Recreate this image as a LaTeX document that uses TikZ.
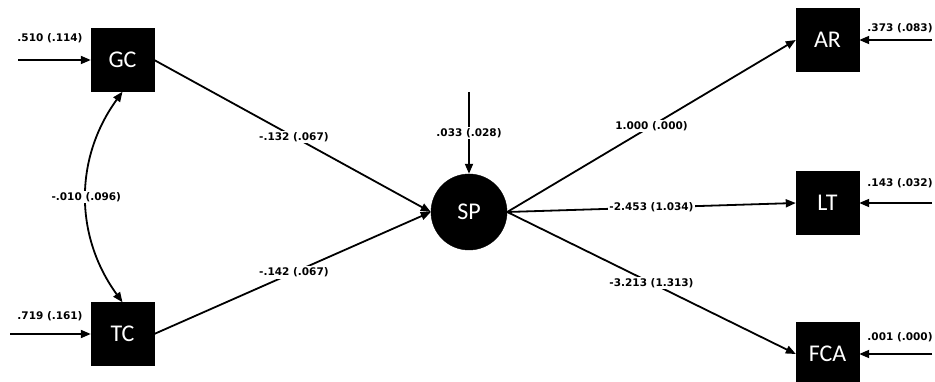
\documentclass[tikz,border=0pt]{standalone}
\usepackage{fontspec}
\usetikzlibrary{arrows.meta}
\newfontfamily\numfont{DejaVu Sans Bold}
\newfontfamily\varfont{Carlito}
\tikzset{
  var/.style={fill=black, draw=black, minimum size=63pt, inner sep=0pt,
    text=white, font=\varfont\fontsize{24}{28}\selectfont},
  latent/.style={circle, fill=black, draw=black, minimum size=76pt, inner sep=0pt,
    text=white, font=\varfont\fontsize{24}{28}\selectfont},
  path/.style={line width=1.8pt, -{Triangle[length=10pt,width=8pt]}},
  cov/.style={line width=1.8pt, {Triangle[length=10pt,width=8pt]}-{Triangle[length=10pt,width=8pt]}},
  est/.style={font=\numfont\fontsize{10.5}{12}\selectfont, inner sep=1.5pt},
  estw/.style={est, fill=white},
}
\begin{document}
\begin{tikzpicture}[x=1pt, y=-1pt]
  \useasboundingbox (0,0) rectangle (935,382);
  \fill[white] (0,0) rectangle (935,382);

  % observed and latent variables
  \node[var] (GC) at (122.5,60) {GC};
  \node[var] (TC) at (122.5,334) {TC};
  \node[latent] (SP) at (469,212) {SP};
  \node[var] (AR) at (827.5,40) {AR};
  \node[var] (LT) at (827.5,203) {LT};
  \node[var] (FCA) at (827.5,354) {FCA};

  % free ends of the error arrows
  \coordinate (eGC) at (18,60);
  \coordinate (eTC) at (10,334);
  \coordinate (eSP) at (469,92);
  \coordinate (eAR) at (932,40);
  \coordinate (eLT) at (932,203);
  \coordinate (eFCA) at (932,354);

  % error variances
  \draw[path] (eGC) -- (GC.west);
  \node[est] (vGC) at (50,38) {.510 (.114)};
  \draw[path] (eTC) -- (TC.west);
  \node[est] (vTC) at (50,316) {.719 (.161)};
  \draw[path] (eSP) -- node[estw, pos=0.5] (vSP) {.033 (.028)} (SP.north);
  \draw[path] (eAR) -- (AR.east);
  \node[est] (vAR) at (900,28) {.373 (.083)};
  \draw[path] (eLT) -- (LT.east);
  \node[est] (vLT) at (900,183) {.143 (.032)};
  \draw[path] (eFCA) -- (FCA.east);
  \node[est] (vFCA) at (900,337) {.001 (.000)};

  % covariance
  \draw[cov] (GC.south) to[bend right=36] node[estw, pos=0.5] (cGT) {-.010 (.096)} (TC.north);

  % structural paths
  \draw[path] (GC.east) -- node[estw, pos=0.505] (pGC) {-.132 (.067)} (SP.west);
  \draw[path] (TC.east) -- node[estw, pos=0.505] (pTC) {-.142 (.067)} (SP.west);
  \draw[path] (SP.east) -- node[estw, pos=0.5] (pAR) {1.000 (.000)} (AR.west);
  \draw[path] (SP.east) -- node[estw, pos=0.5] (pLT) {-2.453 (1.034)} (LT.west);
  \draw[path] (SP.east) -- node[estw, pos=0.5] (pFCA) {-3.213 (1.313)} (FCA.west);
\end{tikzpicture}
\end{document}
